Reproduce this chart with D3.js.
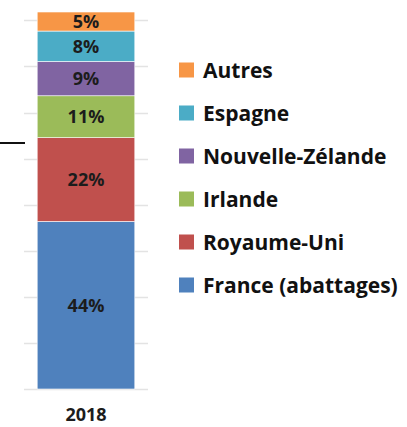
<html>
<head>
    <meta charset="UTF-8">
    <title>Importations 2018</title>
    <script src="https://d3js.org/d3.v7.min.js"></script>
    <style>
        body { margin: 0; background: #fff; }
        text { font-family: "Open Sans", sans-serif; font-weight: bold; }
    </style>
</head>
<body>
    <svg width="407" height="427"></svg>
    <script>
        // données (parts en %)
        var categories = ['France (abattages)', 'Royaume-Uni', 'Irlande', 'Nouvelle-Zélande', 'Espagne', 'Autres'];
        var shares = [44, 22, 11, 9, 8, 5];
        var colors = ['#4F81BD', '#C0504D', '#9BBB59', '#8064A2', '#4BACC6', '#F79646'];
        var years = ['2018'];
        var gridStep = 12.1; // pas du quadrillage estimé, en %

        var svg = d3.select('svg');
        var plot = { top: 12, bottom: 389, left: 24, right: 148 };

        var total = d3.sum(shares);
        var y_scale = d3.scaleLinear().domain([0, total]).range([plot.bottom, plot.top]);
        var x_scale = d3.scaleBand().domain(years).range([plot.left, plot.right]).paddingInner(0).paddingOuter(0.135);

        // quadrillage
        var grid = d3.range(0, total, gridStep);
        svg.append('g').selectAll('line')
            .data(grid)
            .enter().append('line')
            .attr('x1', plot.left).attr('x2', plot.right)
            .attr('y1', d => Math.round(y_scale(d)) + 0.5)
            .attr('y2', d => Math.round(y_scale(d)) + 0.5)
            .attr('stroke', '#e3e3e3')
            .attr('stroke-width', 1.5);

        // empilement
        var stacked = [];
        var acc = 0;
        shares.forEach((v, i) => {
            stacked.push({ name: categories[i], value: v, y0: acc, y1: acc + v, color: colors[i] });
            acc += v;
        });

        var bar = svg.append('g').selectAll('g')
            .data(stacked)
            .enter().append('g');

        bar.append('rect')
            .attr('x', x_scale('2018'))
            .attr('width', x_scale.bandwidth())
            .attr('y', d => y_scale(d.y1))
            .attr('height', d => y_scale(d.y0) - y_scale(d.y1))
            .attr('fill', d => d.color)
            .attr('stroke', '#fff')
            .attr('stroke-width', 0.6);

        bar.append('text')
            .attr('x', x_scale('2018') + x_scale.bandwidth() / 2)
            .attr('y', d => y_scale((d.y0 + d.y1) / 2))
            .attr('dy', '0.36em')
            .attr('text-anchor', 'middle')
            .style('font-size', '18px')
            .attr('fill', '#1c1c1c')
            .text(d => d.value + '%');

        // axe des x
        svg.append('g')
            .attr('transform', 'translate(0,' + plot.bottom + ')')
            .call(d3.axisBottom(x_scale).tickSize(0).tickPadding(19))
            .call(g => g.select('.domain').remove())
            .selectAll('text')
            .style('font-size', '18px')
            .style('font-family', '"Open Sans", sans-serif')
            .style('font-weight', 'bold')
            .attr('fill', '#1c1c1c');

        // trait noir à gauche
        svg.append('line')
            .attr('x1', 0).attr('x2', 25)
            .attr('y1', y_scale(64.6)).attr('y2', y_scale(64.6))
            .attr('stroke', '#111')
            .attr('stroke-width', 2);

        // légende (ordre inverse)
        var legend = svg.append('g').selectAll('g')
            .data(stacked.slice().reverse())
            .enter().append('g')
            .attr('transform', (d, i) => 'translate(179,' + (70 + i * 43) + ')');

        legend.append('rect')
            .attr('x', 0).attr('y', -7.5)
            .attr('width', 15).attr('height', 15)
            .attr('fill', d => d.color);

        legend.append('text')
            .attr('x', 24)
            .attr('dy', '0.36em')
            .style('font-size', '21px')
            .attr('fill', '#111')
            .text(d => d.name);
    </script>
</body>
</html>
